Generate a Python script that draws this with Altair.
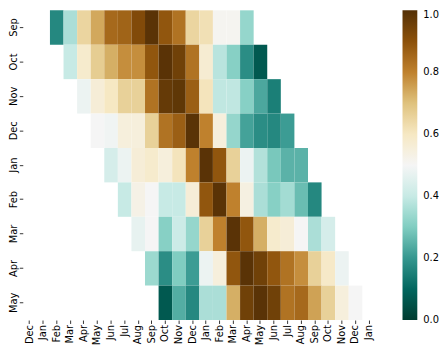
import altair as alt
import pandas as pd

x_labels = ["Dec", "Jan", "Feb", "Mar", "Apr", "May", "Jun", "Jul", "Aug", "Sep", "Oct", "Nov",
            "Dec", "Jan", "Feb", "Mar", "Apr", "May", "Jun", "Jul", "Aug", "Sep", "Oct", "Nov",
            "Dec", "Jan"]
y_labels = ["Sep", "Oct", "Nov", "Dec", "Jan", "Feb", "Mar", "Apr", "May"]
start_cols = [2, 3, 4, 5, 6, 7, 8, 9, 10]

sep_vals = [0.17, 0.36, 0.65, 0.74, 0.85, 0.86, 0.92, 0.99, 0.89, 0.83, 0.65, 0.62, 0.51, 0.51, 0.33]
oct_vals = [0.40, 0.58, 0.67, 0.73, 0.78, 0.78, 0.89, 0.99, 0.95, 0.83, 0.57, 0.38, 0.31, 0.18, 0.07]
nov_vals = [0.48, 0.56, 0.60, 0.66, 0.66, 0.83, 0.97, 0.98, 0.87, 0.61, 0.39, 0.39, 0.31, 0.23, 0.15]
dec_vals = [0.50, 0.49, 0.55, 0.55, 0.66, 0.83, 0.87, 0.99, 0.80, 0.55, 0.33, 0.22, 0.18, 0.17, 0.21]
jan_vals = [0.43, 0.48, 0.56, 0.58, 0.55, 0.61, 0.80, 0.99, 0.89, 0.66, 0.48, 0.37, 0.29, 0.25, 0.25]
feb_vals = [0.40, 0.53, 0.50, 0.40, 0.40, 0.56, 0.89, 0.99, 0.80, 0.54, 0.36, 0.31, 0.35, 0.27, 0.17]
mar_vals = [0.47, 0.50, 0.31, 0.41, 0.33, 0.66, 0.80, 0.99, 0.89, 0.73, 0.58, 0.56, 0.50, 0.36, 0.43]
apr_vals = [0.34, 0.18, 0.30, 0.21, 0.48, 0.55, 0.89, 0.99, 0.95, 0.89, 0.83, 0.78, 0.66, 0.59, 0.48]
may_vals = [0.07, 0.24, 0.17, 0.36, 0.36, 0.73, 0.95, 0.99, 0.95, 0.83, 0.85, 0.75, 0.66, 0.55, 0.50]
rows_vals = [sep_vals, oct_vals, nov_vals, dec_vals, jan_vals, feb_vals, mar_vals, apr_vals, may_vals]

# BrBG reversed (0 -> teal, 1 -> brown)
cmap_stops = [0.0, 0.1, 0.2, 0.3, 0.4, 0.5, 0.6, 0.7, 0.8, 0.9, 1.0]
cmap_colors = ["#003c30", "#01665e", "#35978f", "#80cdc1", "#c7eae5", "#f5f5f5",
               "#f6e8c3", "#dfc27d", "#bf812d", "#8c510a", "#543005"]
legend_ticks = [0.001, 0.2, 0.4, 0.6, 0.8, 1.0]

records = []
for r, (start, vals) in enumerate(zip(start_cols, rows_vals)):
    for k, v in enumerate(vals):
        records.append({"row": r, "col": start + k, "value": v})
df = pd.DataFrame(records)

x_expr = "[" + ",".join(f"'{m}'" for m in x_labels) + "][datum.value]"
y_expr = "[" + ",".join(f"'{m}'" for m in y_labels) + "][datum.value]"

axis_common = dict(title=None, domain=False, tickSize=3.5, tickWidth=0.8, tickColor="#000",
                   labelColor="#000", labelFont="DejaVu Sans", labelFontSize=10,
                   labelPadding=1, labelAngle=270)

chart = alt.Chart(df).mark_rect().encode(
    x=alt.X("col:O", scale=alt.Scale(domain=list(range(len(x_labels))), paddingInner=0, paddingOuter=0),
            axis=alt.Axis(labelExpr=x_expr, **axis_common)),
    y=alt.Y("row:O", scale=alt.Scale(domain=list(range(len(y_labels))), paddingInner=0, paddingOuter=0),
            axis=alt.Axis(labelExpr=y_expr, **axis_common)),
    color=alt.Color("value:Q",
                    scale=alt.Scale(domain=cmap_stops, range=cmap_colors, interpolate="rgb"),
                    legend=alt.Legend(title=None, values=legend_ticks, format=".1f",
                                      gradientLength=314, gradientThickness=15, offset=27,
                                      labelFont="DejaVu Sans", labelFontSize=10, labelColor="#000",
                                      labelOffset=6, direction="vertical", labelOverlap=False)),
).properties(
    width=358, height=314, padding={"left": 0, "top": 0, "right": 0, "bottom": 0}
).configure_view(stroke=None)

chart.save("out.html", embed_options={"renderer": "svg", "actions": False})
